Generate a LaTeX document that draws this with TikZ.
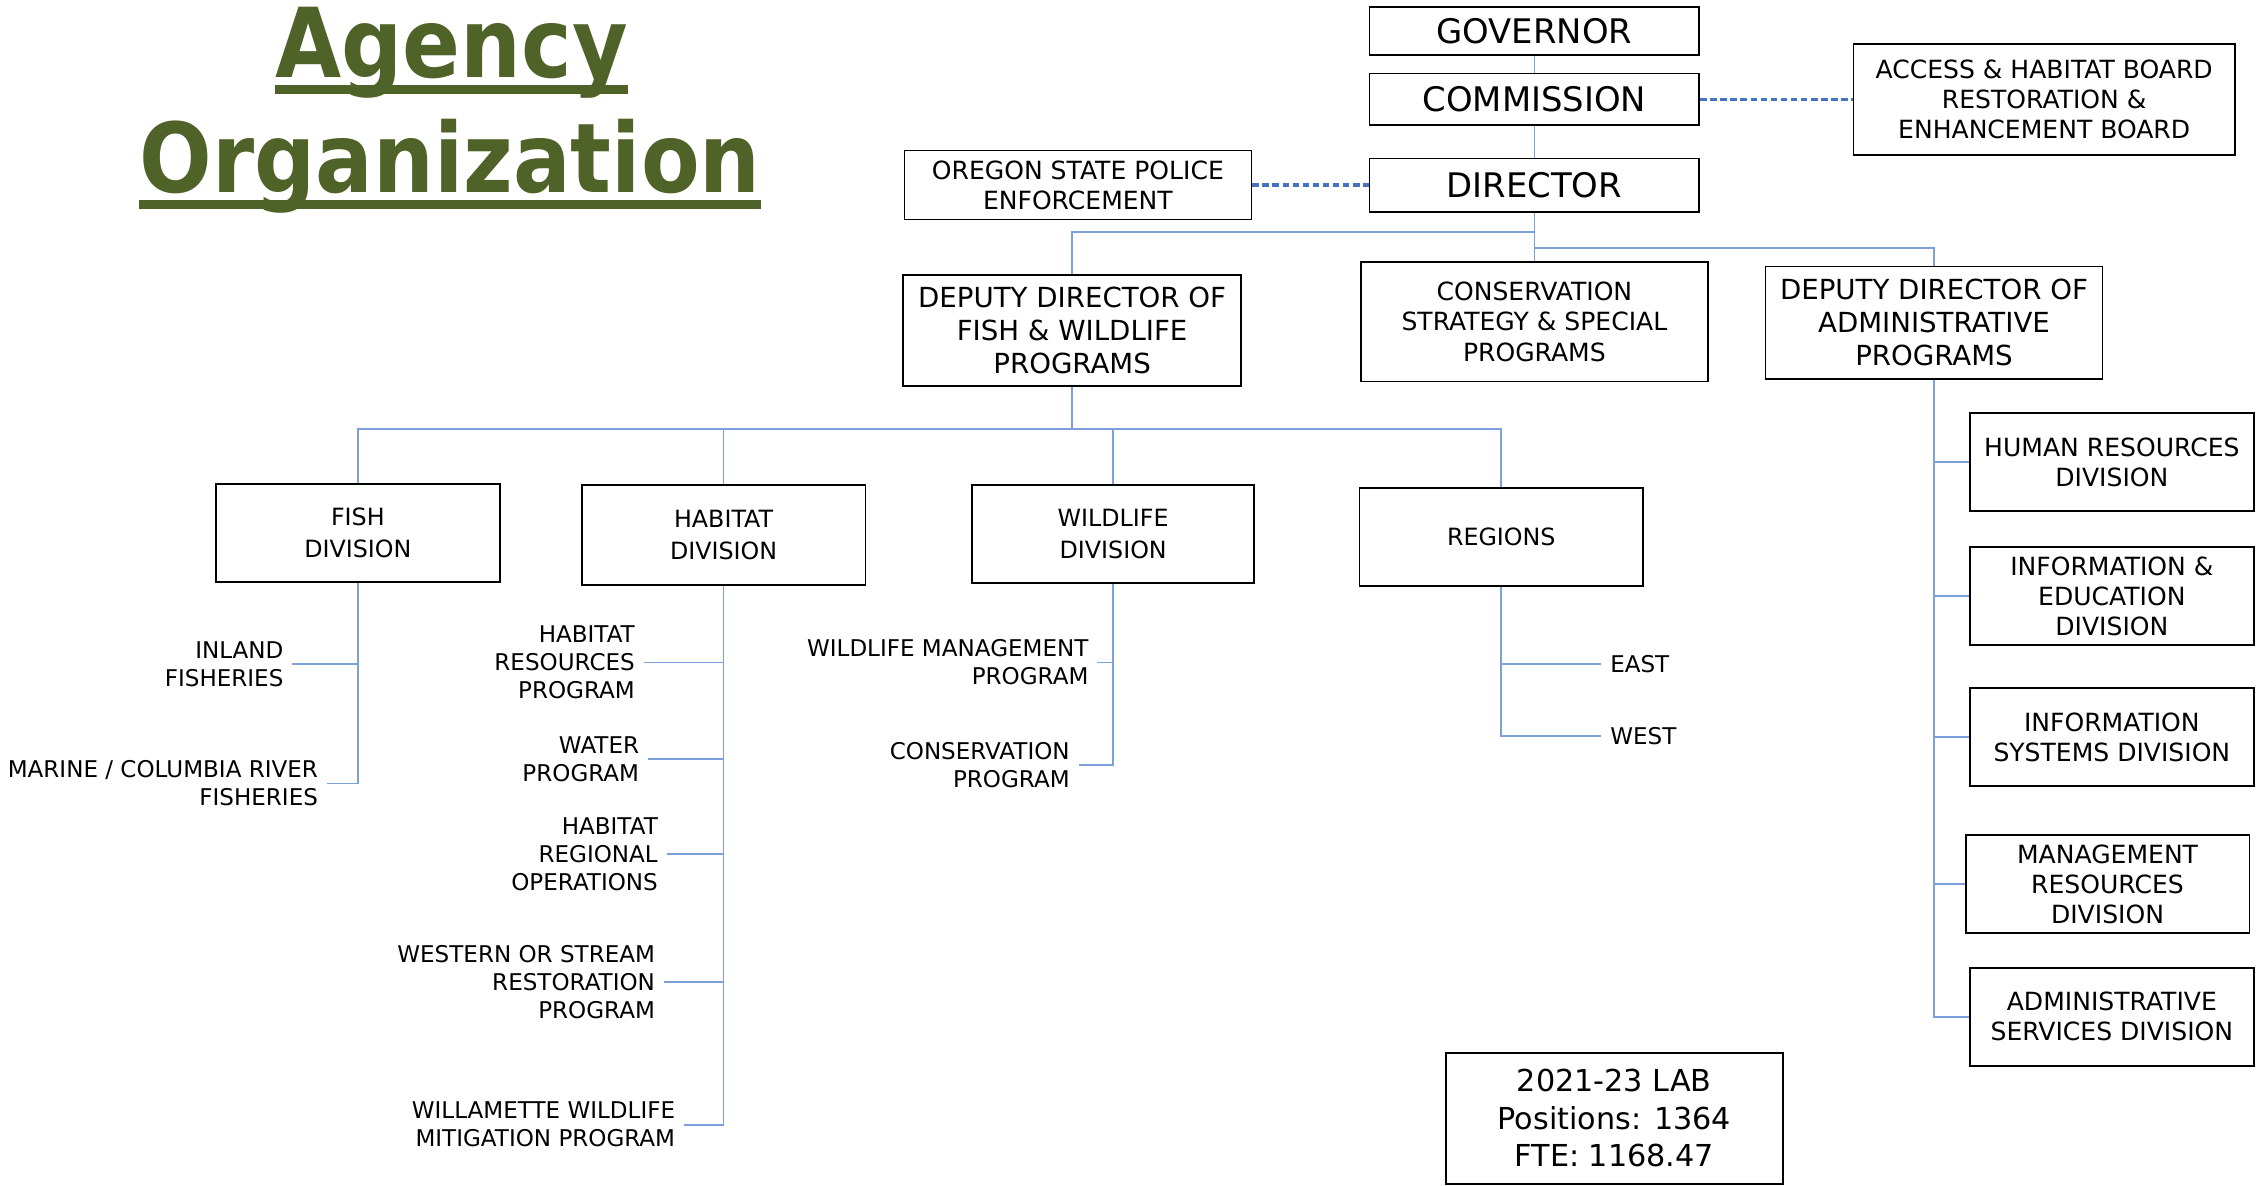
\documentclass[tikz,border=0pt]{standalone}
\usepackage{fontspec}
\setmainfont{DejaVu Sans}
\newfontfamily\titlefont{DejaVu Sans}[FakeStretch=0.886]
\usetikzlibrary{positioning}
\definecolor{titlegreen}{HTML}{4F6228}
\definecolor{linkblue}{HTML}{7DA0DC}
\definecolor{boardblue}{HTML}{4472C4}

\begin{document}
\begin{tikzpicture}[
    x=1pt, y=-1pt,
    orgbox/.style={rectangle, draw=black, line width=1.2, fill=white, align=center, inner sep=0, text=black},
    boxsize/.style 2 args={minimum width=#1, minimum height=#2},
    toptier/.style={font=\fontsize{23.5}{28}\selectfont},
    sidebox/.style={font=\fontsize{17.4}{21}\selectfont},
    deputybox/.style={font=\fontsize{19.2}{23}\selectfont},
    divbox/.style={font=\fontsize{16.5}{22}\selectfont},
    labbox/.style={font=\fontsize{21}{26}\selectfont},
    sublabel/.style={align=right, inner ysep=0, inner xsep=6, font=\fontsize{16}{19.5}\selectfont},
    regionlabel/.style={align=left, inner ysep=0, inner xsep=6, font=\fontsize{16}{19.5}\selectfont},
    titletext/.style={inner sep=0, anchor=base, text=titlegreen, font=\titlefont\bfseries\fontsize{67}{70}\selectfont},
    orgline/.style={linkblue, line width=1.2},
    boardline/.style={boardblue, line width=2.4, dash pattern=on 4.5 off 2.5}
]
\useasboundingbox (0,0) rectangle (1568,823);

% ==================== TITLE ====================
\node[titletext] (agencytitle) at (313.5,54) {Agency};
\node[titletext] (orgtitle) at (312.5,134) {Organization};
\draw[titlegreen, line width=6] ([yshift=-8]agencytitle.base west) -- ([yshift=-8]agencytitle.base east);
\draw[titlegreen, line width=6] ([yshift=-8]orgtitle.base west) -- ([yshift=-8]orgtitle.base east);

% ==================== TOP TIER ====================
\node[orgbox, toptier, boxsize={229}{33}] (governor) at (1065.5,21.5) {GOVERNOR};
\node[orgbox, toptier, boxsize={229}{36}] (commission) at (1065.5,69) {COMMISSION};
\node[orgbox, toptier, boxsize={229}{37}] (director) at (1065.5,128.5) {DIRECTOR};

\node[orgbox, sidebox, boxsize={265}{77}] (boards) at (1419.5,69) {ACCESS \& HABITAT BOARD\\RESTORATION \&\\ENHANCEMENT BOARD};
\node[orgbox, sidebox, boxsize={241}{48}] (police) at (748.5,128.5) {OREGON STATE POLICE\\ENFORCEMENT};

% ==================== DEPUTIES ====================
\node[orgbox, deputybox, boxsize={235}{77}] (depfish) at (744.5,229.5) {DEPUTY DIRECTOR OF\\FISH \& WILDLIFE\\PROGRAMS};
\node[orgbox, sidebox, boxsize={241}{83}] (strategy) at (1065.5,223.5) {CONSERVATION\\STRATEGY \& SPECIAL\\PROGRAMS};
\node[orgbox, deputybox, boxsize={234}{78}] (depadmin) at (1343,224) {DEPUTY DIRECTOR OF\\ADMINISTRATIVE\\PROGRAMS};

% ==================== DIVISIONS ====================
\node[orgbox, divbox, boxsize={197}{68}] (fish) at (248.5,370) {FISH\\DIVISION};
\node[orgbox, divbox, boxsize={197}{69}] (habitat) at (502.5,371.5) {HABITAT\\DIVISION};
\node[orgbox, divbox, boxsize={196}{68}] (wildlife) at (773,371) {WILDLIFE\\DIVISION};
\node[orgbox, divbox, boxsize={197}{68}] (regions) at (1042.5,373) {REGIONS};

\node[orgbox, sidebox, boxsize={197}{68}] (humanres) at (1466.5,321) {HUMAN RESOURCES\\DIVISION};
\node[orgbox, sidebox, boxsize={197}{68}] (infoedu) at (1466.5,414) {INFORMATION \&\\EDUCATION\\DIVISION};
\node[orgbox, sidebox, boxsize={197}{68}] (infosys) at (1466.5,512) {INFORMATION\\SYSTEMS DIVISION};
\node[orgbox, sidebox, boxsize={197}{68}] (mgmtres) at (1463.5,614) {MANAGEMENT\\RESOURCES\\DIVISION};
\node[orgbox, sidebox, boxsize={197}{68}] (adminsvc) at (1466.5,706) {ADMINISTRATIVE\\SERVICES DIVISION};

% ==================== PROGRAMS ====================
\node[sublabel, anchor=east] (inland) at (203,461) {INLAND\\FISHERIES};
\node[sublabel, anchor=east] (marine) at (227,544) {MARINE / COLUMBIA RIVER\\FISHERIES};

\node[sublabel, anchor=east] (habres) at (447,460) {HABITAT\\RESOURCES\\PROGRAM};
\node[sublabel, anchor=east] (water) at (450,527) {WATER\\PROGRAM};
\node[sublabel, anchor=east] (habreg) at (463,593) {HABITAT\\REGIONAL\\OPERATIONS};
\node[sublabel, anchor=east] (western) at (461,682) {WESTERN OR STREAM\\RESTORATION\\PROGRAM};
\node[sublabel, anchor=east] (willamette) at (475,781) {WILLAMETTE WILDLIFE\\MITIGATION PROGRAM};

\node[sublabel, anchor=east] (wildmgmt) at (762,460) {WILDLIFE MANAGEMENT\\PROGRAM};
\node[sublabel, anchor=east] (consprog) at (749,531) {CONSERVATION\\PROGRAM};

\node[regionlabel, anchor=west] (east) at (1112,461) {EAST};
\node[regionlabel, anchor=west] (west) at (1112,511) {WEST};

% ==================== BUDGET ====================
\node[orgbox, labbox, boxsize={234}{91}] (lab) at (1121,776.5) {2021-23 LAB\\Positions: 1364\\FTE: 1168.47};

% ==================== CONNECTORS ====================
\coordinate (fwbus) at (1065.5,161);
\coordinate (adbus) at (1065.5,172);
\coordinate (divbus) at (744.5,298);

\draw[orgline] (governor.south) -- (commission.north);
\draw[orgline] (commission.south) -- (director.north);
\draw[boardline] (commission.east) -- (boards.west);
\draw[boardline] (police.east) -- (director.west);

\draw[orgline] (director.south) -- (strategy.north);
\draw[orgline] (depfish.north) |- (fwbus);
\draw[orgline] (depadmin.north) |- (adbus);

% Fish & Wildlife branch
\draw[orgline] (depfish.south) -- (divbus);
\draw[orgline] (fish.north) |- (divbus);
\draw[orgline] (habitat.north) |- (divbus);
\draw[orgline] (wildlife.north) |- (divbus);
\draw[orgline] (regions.north) |- (divbus);

\draw[orgline] (inland.east) -- (inland.east -| fish.south);
\draw[orgline] (fish.south) |- (marine.east);

\draw[orgline] (habres.east) -- (habres.east -| habitat.south);
\draw[orgline] (water.east) -- (water.east -| habitat.south);
\draw[orgline] (habreg.east) -- (habreg.east -| habitat.south);
\draw[orgline] (western.east) -- (western.east -| habitat.south);
\draw[orgline] (habitat.south) |- (willamette.east);

\draw[orgline] (wildmgmt.east) -- (wildmgmt.east -| wildlife.south);
\draw[orgline] (wildlife.south) |- (consprog.east);

\draw[orgline] (east.west) -- (east.west -| regions.south);
\draw[orgline] (regions.south) |- (west.west);

% Administrative branch
\draw[orgline] (humanres.west) -- (humanres.west -| depadmin.south);
\draw[orgline] (infoedu.west) -- (infoedu.west -| depadmin.south);
\draw[orgline] (infosys.west) -- (infosys.west -| depadmin.south);
\draw[orgline] (mgmtres.west) -- (mgmtres.west -| depadmin.south);
\draw[orgline] (depadmin.south) |- (adminsvc.west);

\end{tikzpicture}
\end{document}
